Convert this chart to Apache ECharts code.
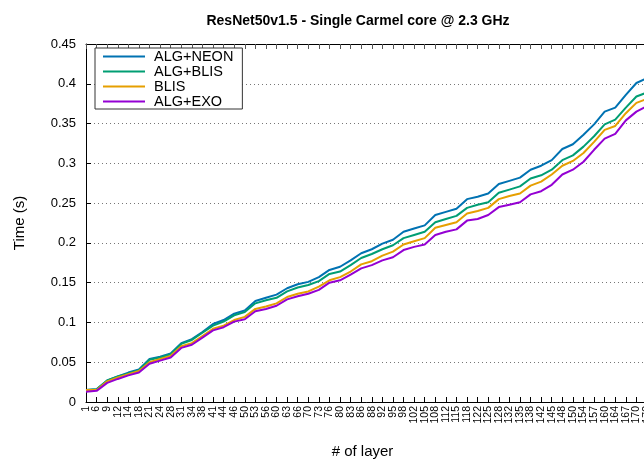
<!DOCTYPE html>
<html>
<head>
<meta charset="utf-8">
<script src="https://cdn.jsdelivr.net/npm/echarts@6/dist/echarts.min.js"></script>
<style>
  html, body { margin: 0; padding: 0; background: #fff; overflow: hidden; }
  /* wider than the window so the plot runs off the right edge like the original */
  #chart { width: 662px; height: 466px; }
</style>
</head>
<body>
<div id="chart"></div>
<script>
// layer numbers on the x axis (last one runs past the right edge)
var layers = ['1', '6', '9', '12', '14', '18', '21', '24', '28', '31', '34', '38', '41', '44', '46',
  '50', '53', '56', '60', '63', '66', '70', '73', '76', '80', '83', '86', '88', '92', '95', '98',
  '102', '105', '108', '112', '115', '118', '122', '125', '128', '132', '135', '138', '142', '145',
  '148', '150', '154', '157', '160', '164', '167', '170', '173']

var algNeon = [0.015, 0.016, 0.027, 0.032, 0.037, 0.041, 0.054, 0.057, 0.061, 0.074, 0.079, 0.088,
  0.098, 0.103, 0.111, 0.115, 0.127, 0.131, 0.135, 0.143, 0.148, 0.151, 0.157, 0.166, 0.170, 0.178,
  0.187, 0.192, 0.199, 0.204, 0.214, 0.218, 0.222, 0.235, 0.239, 0.243, 0.255, 0.258, 0.262, 0.274,
  0.278, 0.282, 0.292, 0.297, 0.304, 0.318, 0.324, 0.336, 0.349, 0.365, 0.370, 0.386, 0.401, 0.407]

var algBlis = [0.015, 0.016, 0.027, 0.032, 0.036, 0.040, 0.053, 0.056, 0.060, 0.073, 0.078, 0.087,
  0.096, 0.101, 0.109, 0.113, 0.124, 0.128, 0.131, 0.139, 0.144, 0.147, 0.152, 0.161, 0.164, 0.172,
  0.181, 0.186, 0.192, 0.197, 0.206, 0.210, 0.214, 0.226, 0.230, 0.234, 0.244, 0.248, 0.251, 0.263,
  0.267, 0.271, 0.281, 0.285, 0.292, 0.304, 0.310, 0.321, 0.334, 0.349, 0.355, 0.370, 0.384, 0.389]

var blis = [0.015, 0.015, 0.026, 0.031, 0.035, 0.039, 0.050, 0.054, 0.058, 0.070, 0.074, 0.083,
  0.092, 0.096, 0.103, 0.107, 0.117, 0.120, 0.124, 0.132, 0.136, 0.139, 0.145, 0.153, 0.157, 0.164,
  0.173, 0.177, 0.184, 0.189, 0.198, 0.202, 0.206, 0.219, 0.2225, 0.226, 0.237, 0.240, 0.244, 0.255,
  0.259, 0.262, 0.272, 0.277, 0.286, 0.297, 0.303, 0.313, 0.327, 0.342, 0.347, 0.363, 0.376, 0.381]

var algExo = [0.013, 0.014, 0.024, 0.029, 0.0335, 0.037, 0.048, 0.052, 0.056, 0.068, 0.072, 0.081,
  0.090, 0.094, 0.101, 0.104, 0.114, 0.117, 0.121, 0.129, 0.133, 0.136, 0.141, 0.150, 0.153, 0.160,
  0.168, 0.172, 0.178, 0.182, 0.191, 0.195, 0.198, 0.210, 0.214, 0.217, 0.228, 0.230, 0.235, 0.245,
  0.248, 0.251, 0.261, 0.265, 0.273, 0.286, 0.292, 0.302, 0.317, 0.331, 0.337, 0.354, 0.365, 0.372]

var yTicks = [0, 0.05, 0.1, 0.15, 0.2, 0.25, 0.3, 0.35, 0.4, 0.45]

var font = '"Liberation Sans", Arial, Helvetica, sans-serif'

function line (name, color, values) {
  return {
    name: name,
    type: 'line',
    data: values,
    symbol: 'none',
    lineStyle: { color: color, width: 2 },
    itemStyle: { color: color },
    z: 3
  }
}

var chart = echarts.init(document.getElementById('chart'), null, { renderer: 'canvas' })

chart.setOption({
  animation: false,
  textStyle: { fontFamily: font },
  title: {
    text: 'ResNet50v1.5 - Single Carmel core @ 2.3 GHz',
    left: 353,
    top: 9,
    textAlign: 'center',
    textStyle: { fontSize: 14, fontWeight: 'bold', color: '#000', fontFamily: font }
  },
  legend: {
    orient: 'vertical',
    left: 95,
    top: 48,
    padding: [1, 9, 0, 8],
    itemGap: 0,
    itemWidth: 42,
    itemHeight: 2,
    icon: 'rect',
    backgroundColor: '#fff',
    borderColor: '#333',
    borderWidth: 1,
    textStyle: { fontSize: 14.5, color: '#000', lineHeight: 14.5, padding: [0, 0, 0, 4], fontFamily: font },
    data: ['ALG+NEON', 'ALG+BLIS', 'BLIS', 'ALG+EXO']
  },
  grid: { left: 86, top: 44, right: 15, bottom: 64 },
  xAxis: [{
    type: 'category',
    data: layers,
    boundaryGap: false,
    name: '# of layer',
    nameLocation: 'middle',
    nameGap: 42,
    nameTextStyle: { fontSize: 15, color: '#000', padding: [0, 8, 0, 0], fontFamily: font },
    axisLine: { lineStyle: { color: '#000', width: 1 } },
    axisTick: { inside: true, length: 5, lineStyle: { color: '#000' } },
    axisLabel: { rotate: 90, interval: 0, fontSize: 10.5, color: '#000', margin: 4, fontFamily: font },
    splitLine: { show: false }
  }, {
    type: 'category',
    data: layers,
    boundaryGap: false,
    position: 'top',
    axisLine: { lineStyle: { color: '#000', width: 1 } },
    axisTick: { inside: true, length: 5, interval: 0, lineStyle: { color: '#555' } },
    axisLabel: { show: false },
    splitLine: { show: false }
  }],
  yAxis: {
    type: 'value',
    min: yTicks[0],
    max: yTicks[yTicks.length - 1],
    interval: 0.05,
    name: 'Time (s)',
    nameLocation: 'middle',
    nameGap: 59,
    nameTextStyle: { fontSize: 15, color: '#000', fontFamily: font },
    axisLine: { show: true, lineStyle: { color: '#000', width: 1 } },
    axisTick: { show: true, inside: true, length: 5, lineStyle: { color: '#000' } },
    axisLabel: { fontSize: 13, color: '#000', margin: 10, fontFamily: font },
    splitLine: { show: true, lineStyle: { color: '#777', type: [1, 3], width: 1 } }
  },
  series: [
    line('ALG+NEON', '#0072b2', algNeon),
    line('ALG+BLIS', '#009e73', algBlis),
    line('BLIS', '#e69f00', blis),
    line('ALG+EXO', '#9400d3', algExo)
  ]
})
</script>
</body>
</html>
